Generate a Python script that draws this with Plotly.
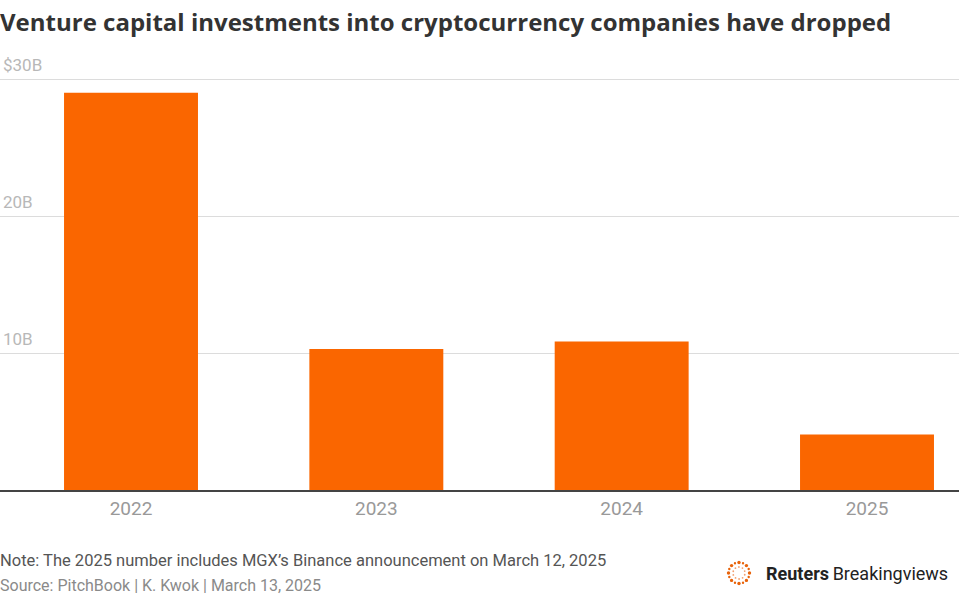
import math
import plotly.graph_objects as go

years = ["2022", "2023", "2024", "2025"]
investment_bn = [29.0, 10.3, 10.85, 4.05]
tick_vals = [0, 10, 20, 30]
tick_text = ["", "10B", "20B", "$30B"]

title = "Venture capital investments into cryptocurrency companies have dropped"
note = "Note: The 2025 number includes MGX\u2019s Binance announcement on March 12, 2025"
source = "Source: PitchBook | K. Kwok | March 13, 2025"

W, H = 959, 600
MB = 110
Y_MAX = 33.0
UNIT = 13.7
MT = int(round(H - MB - Y_MAX * UNIT))
plot_h = H - MT - MB


def py2paper(py):
    return (H - MB - py) / plot_h


fig = go.Figure()
fig.add_trace(go.Bar(
    x=list(range(len(years))), y=investment_bn,
    marker=dict(color="#fa6600", line=dict(width=0)),
    width=0.546, hoverinfo="skip",
))

fig.update_layout(
    width=W, height=H,
    margin=dict(l=0, r=0, t=MT, b=MB),
    paper_bgcolor="white", plot_bgcolor="white",
    showlegend=False,
    font=dict(family="Roboto, sans-serif"),
    xaxis=dict(
        range=[-0.534, 3.375],
        tickmode="array", tickvals=list(range(len(years))), ticktext=years,
        showgrid=False, zeroline=False,
        showline=True, linecolor="#444444", linewidth=1.5,
        ticks="", tickfont=dict(size=19, color="#999999"),
        ticklabelstandoff=0,
    ),
    yaxis=dict(
        range=[0, Y_MAX],
        tickmode="array", tickvals=tick_vals, ticktext=tick_text,
        showgrid=True, gridcolor="#dcdcdc", gridwidth=1,
        zeroline=False, showline=False, ticks="",
        ticklabelposition="inside top",
        ticklabelstandoff=0, ticklabelshift=-2,
        tickfont=dict(size=17, color="#b8b8b8"),
    ),
    annotations=[
        dict(text="<b>" + title + "</b>", x=0, y=py2paper(21), xref="paper", yref="paper",
             xanchor="left", yanchor="middle", showarrow=False, xshift=-2,
             font=dict(size=24, color="#333333", family="Open Sans, sans-serif")),
        dict(text=note, x=0, y=py2paper(560), xref="paper", yref="paper",
             xanchor="left", yanchor="middle", showarrow=False, xshift=-2,
             font=dict(size=16.5, color="#555555")),
        dict(text=source, x=0, y=py2paper(585), xref="paper", yref="paper",
             xanchor="left", yanchor="middle", showarrow=False, xshift=-2,
             font=dict(size=16, color="#8a8a8a")),
        dict(text="<b>Reuters</b>\u2009Breakingviews", x=950 / W, y=py2paper(573), xref="paper", yref="paper",
             xanchor="right", yanchor="middle", showarrow=False,
             font=dict(size=18, color="#222222")),
    ],
)

# logo dotted ring (decorative)
cx, cy, r = 739, 573, 10.5
shapes = []
n = 16
for i in range(n):
    ang = 2 * math.pi * i / n
    px = cx + r * math.cos(ang)
    py = cy + r * math.sin(ang)
    s = 1.7 if i % 2 == 0 else 1.2
    shapes.append(dict(type="circle", xref="paper", yref="paper",
                       x0=(px - s) / W, x1=(px + s) / W,
                       y0=py2paper(py + s), y1=py2paper(py - s),
                       fillcolor="#e8630a", line=dict(width=0)))
for i in range(10):
    ang = 2 * math.pi * i / 10 + 0.3
    px = cx + 6 * math.cos(ang)
    py = cy + 6 * math.sin(ang)
    s = 0.9
    shapes.append(dict(type="circle", xref="paper", yref="paper",
                       x0=(px - s) / W, x1=(px + s) / W,
                       y0=py2paper(py + s), y1=py2paper(py - s),
                       fillcolor="#f2a070", line=dict(width=0)))
fig.update_layout(shapes=shapes)

fig.write_html(
    "out.html",
    config={"displayModeBar": False},
    post_script="document.body.style.margin='0';document.body.style.overflow='hidden';",
)
